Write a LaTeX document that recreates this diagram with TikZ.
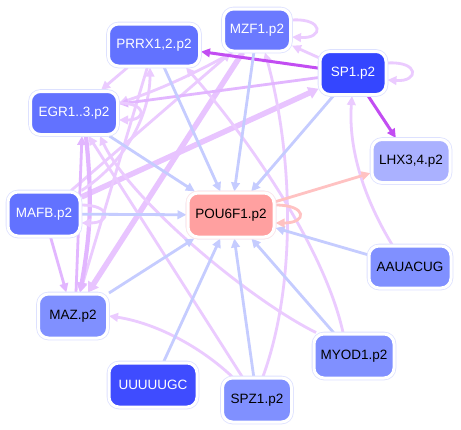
\documentclass[tikz,border=0pt]{standalone}
\usepackage{fontspec}
\setmainfont{Liberation Sans}
\usetikzlibrary{arrows.meta}
\pgfdeclarelayer{bg}
\pgfsetlayers{bg,main}
\definecolor{cA}{HTML}{6272FF}
\definecolor{cB}{HTML}{6B7AFF}
\definecolor{cSP}{HTML}{3446FF}
\definecolor{cU}{HTML}{3F4CFF}
\definecolor{cL}{HTML}{AAB1FF}
\definecolor{cM}{HTML}{8090FF}
\definecolor{cP}{HTML}{FFA0A0}
\definecolor{ring}{HTML}{DDE1FF}
\definecolor{blueE}{HTML}{C5CCFF}
\definecolor{purpL}{HTML}{EBCBFF}
\definecolor{purpM}{HTML}{E2B6FF}
\definecolor{purpT}{HTML}{E8C4FF}
\definecolor{purpD}{HTML}{C24DF2}
\definecolor{pinkE}{HTML}{FFC2C2}
\tikzset{
  nd/.style={rectangle, rounded corners=10pt, draw=white, line width=3pt,
    preaction={draw=ring, line width=4.6pt}, inner sep=0pt, outer sep=1.5pt,
    font=\fontsize{13.5}{15}\selectfont},
  tip/.style={-{Triangle[length=9pt,width=8.5pt]}},
  eb/.style={draw=blueE, line width=2.8pt, tip},
  ep/.style={draw=purpL, line width=2.8pt, tip},
  epm/.style={draw=purpM, line width=2.8pt, tip},
  eth/.style={draw=purpT, line width=5.5pt, -{Triangle[length=10pt,width=12pt]}},
  emid/.style={draw=purpM, line width=4.2pt, -{Triangle[length=10pt,width=10.5pt]}},
  ed/.style={draw=purpD, line width=3pt, tip},
  epk/.style={draw=pinkE, line width=2.8pt, tip},
}
\begin{document}
\begin{tikzpicture}[x=1pt,y=1pt]
\useasboundingbox (0,0) rectangle (461,-429);
\node[nd, fill=cA, text=white, minimum width=91pt, minimum height=42pt] (prrx) at (154,-45) {PRRX1,2.p2};
\node[nd, fill=cB, text=white, minimum width=67pt, minimum height=42pt] (mzf) at (257,-30) {MZF1.p2};
\node[nd, fill=cSP, text=white, minimum width=66pt, minimum height=43pt] (sp) at (353,-73) {SP1.p2};
\node[nd, fill=cA, text=white, minimum width=87pt, minimum height=43pt] (egr) at (74,-113) {EGR1..3.p2};
\node[nd, fill=cL, text=black, minimum width=78pt, minimum height=43pt] (lhx) at (411,-161) {LHX3,4.p2};
\node[nd, fill=cA, text=white, minimum width=72pt, minimum height=44pt] (mafb) at (44,-214) {MAFB.p2};
\node[nd, fill=cP, text=black, draw=white, minimum width=86pt, minimum height=44pt, preaction={draw=pinkE!40, line width=4.6pt}] (pou) at (231,-215) {POU6F1.p2};
\node[nd, fill=cM, text=black, minimum width=82pt, minimum height=42pt] (aau) at (410,-267) {AAUACUG};
\node[nd, fill=cM, text=black, minimum width=69pt, minimum height=44pt] (maz) at (73,-316) {MAZ.p2};
\node[nd, fill=cM, text=black, minimum width=80pt, minimum height=44pt] (myod) at (354,-356) {MYOD1.p2};
\node[nd, fill=cU, text=white, minimum width=88pt, minimum height=44pt] (uuu) at (153,-385) {UUUUUGC};
\node[nd, fill=cM, text=black, minimum width=69pt, minimum height=44pt] (spz) at (257,-400) {SPZ1.p2};
\begin{pgfonlayer}{bg}
\fill[white] (0,0) rectangle (461,-429);
% purple edges
\draw[ep] (mafb) -- (mzf);
\draw[eth] (mafb) -- (sp);
\draw[eth] (mzf) -- (maz);
\draw[ep] (prrx) -- (maz);
\draw[epm] (mafb) -- (maz);
\draw[emid] ([xshift=12pt]egr.south) to[bend left=8] ([xshift=7pt]maz.north);
\draw[epm] ([xshift=3pt]maz.north) -- ([xshift=8pt]egr.south);
\draw[ep] (mafb.north east) .. controls (122,-165) and (150,-118) .. ([xshift=-4pt]prrx.south);
\draw[ep] (spz) -- (egr);
\draw[ep] ([xshift=-25pt]spz.north) .. controls (195,-342) and (150,-322) .. (maz.east);
\draw[ep] ([xshift=-38pt]myod.north) .. controls (250,-300) and (130,-200) .. ([xshift=26pt]egr.south);
\draw[ep] ([xshift=-11pt]myod.north) .. controls (325,-250) and (250,-140) .. ([xshift=32pt]prrx.south);
\draw[ep] ([xshift=6pt]spz.north) .. controls (298,-280) and (292,-150) .. ([xshift=8pt]mzf.south);
\draw[ep] ([xshift=-18pt]aau.north) .. controls (365,-200) and (348,-150) .. ([xshift=-1pt]sp.south);
\draw[ep] ([xshift=-25pt]mzf.south) .. controls (205,-68) and (165,-88) .. ([yshift=10pt]egr.east);
\draw[epm] (sp) -- ([yshift=9pt]egr.east);
\draw[ep] (prrx) -- (egr);
\draw[ep] (sp) -- (mzf);
\draw[ed] (sp) -- (prrx);
\draw[ed] (sp) -- (lhx);
% loops
\draw[ep] ([yshift=10pt]sp.east) .. controls +(32,2) and +(32,-2) .. ([yshift=-7pt]sp.east);
\draw[ep] ([yshift=10pt]mzf.east) .. controls +(32,2) and +(32,-2) .. ([yshift=-7pt]mzf.east);
\draw[ep] ([yshift=10pt]egr.east) .. controls +(28,0) and +(28,0) .. ([yshift=-7pt]egr.east);
\draw[ep] ([yshift=9pt]mafb.east) .. controls +(30,0) and +(30,0) .. ([yshift=-9pt]mafb.east);
% blue edges
\draw[eb] (prrx) -- (pou);
\draw[eb] (mzf) -- (pou);
\draw[eb] (sp) -- (pou);
\draw[eb] (egr) -- (pou);
\draw[eb] (mafb) -- (pou);
\draw[eb] (maz) -- (pou);
\draw[eb] (uuu) -- (pou);
\draw[eb] (spz) -- (pou);
\draw[eb] (myod) -- (pou);
\draw[eb] (aau) -- (pou);
% pink
\draw[epk] (pou) -- (lhx);
\draw[epk] ([yshift=10pt]pou.east) .. controls +(32,0) and +(32,0) .. ([yshift=-8pt]pou.east);
\end{pgfonlayer}
\end{tikzpicture}
\end{document}
